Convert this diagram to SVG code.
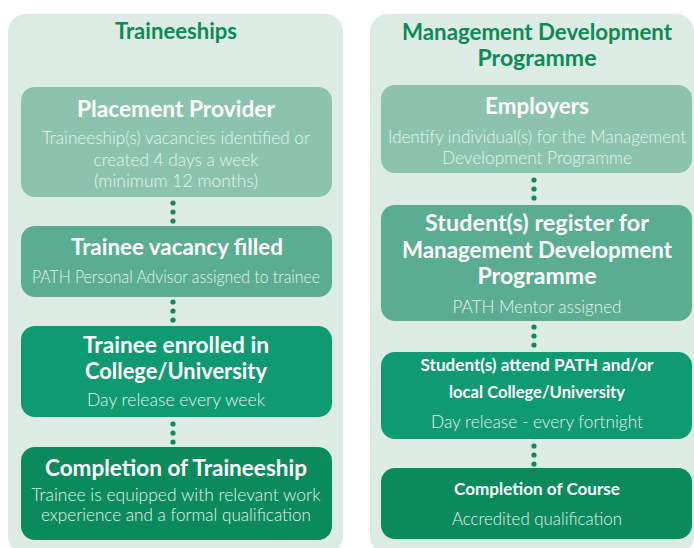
<svg xmlns="http://www.w3.org/2000/svg" width="694" height="548" viewBox="0 0 694 548">
<style>
.panel{fill:#dcebe4}
.b1{fill:#8cc3af}
.b2{fill:#5aad90}
.b3{fill:#0f9a71}
.b4{fill:#0b8a5d}
text{text-anchor:middle;font-family:Lato,"Open Sans",sans-serif}
.ht{font-weight:bold;fill:#0b8a55;font-size:22px}
.t{font-weight:bold;fill:#ffffff;font-size:22px}
.ts{font-weight:bold;fill:#ffffff;font-size:17px}
.s{font-weight:300;fill:#e6f3ee;font-size:17px}
.dot{fill:#0b8a5a}
</style>
<rect class="panel" x="8" y="14" width="335" height="540" rx="18"/>
<rect class="panel" x="370" y="14" width="324" height="540" rx="18"/>
<text class="ht" x="176" y="39" textLength="122" lengthAdjust="spacingAndGlyphs">Traineeships</text>
<text class="ht" x="537" y="40" textLength="270" lengthAdjust="spacingAndGlyphs">Management Development</text>
<text class="ht" x="537" y="66" textLength="119" lengthAdjust="spacingAndGlyphs">Programme</text>

<g id="placement-provider">
<rect class="b1" x="21" y="87" width="311" height="110" rx="14"/>
<text class="t" x="176" y="117" textLength="198" lengthAdjust="spacingAndGlyphs">Placement Provider</text>
<text class="s" x="176" y="144" textLength="268" lengthAdjust="spacingAndGlyphs">Traineeship(s) vacancies identified or</text>
<text class="s" x="176" y="166" textLength="165" lengthAdjust="spacingAndGlyphs">created 4 days a week</text>
<text class="s" x="176" y="187" textLength="164" lengthAdjust="spacingAndGlyphs">(minimum 12 months)</text>
</g>
<g id="vacancy-filled">
<rect class="b2" x="21" y="226" width="311" height="71" rx="14"/>
<text class="t" x="177" y="255" textLength="212" lengthAdjust="spacingAndGlyphs">Trainee vacancy filled</text>
<text class="s" x="176" y="283" textLength="288" lengthAdjust="spacingAndGlyphs">PATH Personal Advisor assigned to trainee</text>
</g>
<g id="trainee-enrolled">
<rect class="b3" x="21" y="326" width="311" height="91" rx="14"/>
<text class="t" x="176" y="353" textLength="186" lengthAdjust="spacingAndGlyphs">Trainee enrolled in</text>
<text class="t" x="176" y="379" textLength="182" lengthAdjust="spacingAndGlyphs">College/University</text>
<text class="s" x="176" y="406" textLength="178" lengthAdjust="spacingAndGlyphs">Day release every week</text>
</g>
<g id="completion-traineeship">
<rect class="b4" x="21" y="447" width="311" height="93" rx="14"/>
<text class="t" x="176" y="476" textLength="262" lengthAdjust="spacingAndGlyphs">Completion of Traineeship</text>
<text class="s" x="176" y="501" textLength="289" lengthAdjust="spacingAndGlyphs">Trainee is equipped with relevant work</text>
<text class="s" x="176" y="521" textLength="270" lengthAdjust="spacingAndGlyphs">experience and a formal qualification</text>
</g>

<g id="employers">
<rect class="b1" x="381" y="85" width="311" height="88" rx="14"/>
<text class="t" x="537" y="114" textLength="104" lengthAdjust="spacingAndGlyphs">Employers</text>
<text class="s" x="537" y="143" textLength="298" lengthAdjust="spacingAndGlyphs">Identify individual(s) for the Management</text>
<text class="s" x="537" y="164" textLength="190" lengthAdjust="spacingAndGlyphs">Development Programme</text>
</g>
<g id="student-register">
<rect class="b2" x="381" y="205" width="311" height="116" rx="14"/>
<text class="t" x="537" y="231" textLength="224" lengthAdjust="spacingAndGlyphs">Student(s) register for</text>
<text class="t" x="537" y="258" textLength="270" lengthAdjust="spacingAndGlyphs">Management Development</text>
<text class="t" x="537" y="284" textLength="119" lengthAdjust="spacingAndGlyphs">Programme</text>
<text class="s" x="537" y="313" textLength="169" lengthAdjust="spacingAndGlyphs">PATH Mentor assigned</text>
</g>
<g id="student-attend">
<rect class="b3" x="381" y="352" width="311" height="87" rx="14"/>
<text class="ts" x="537" y="371" textLength="233" lengthAdjust="spacingAndGlyphs">Student(s) attend PATH and/or</text>
<text class="ts" x="537" y="398" textLength="176" lengthAdjust="spacingAndGlyphs">local College/University</text>
<text class="s" x="537" y="428" textLength="212" lengthAdjust="spacingAndGlyphs">Day release - every fortnight</text>
</g>
<g id="completion-course">
<rect class="b4" x="381" y="468" width="311" height="71" rx="14"/>
<text class="ts" x="537" y="495" textLength="166" lengthAdjust="spacingAndGlyphs">Completion of Course</text>
<text class="s" x="537" y="525" textLength="170" lengthAdjust="spacingAndGlyphs">Accredited qualification</text>
</g>

<g id="connectors">
<circle class="dot" cx="173" cy="203" r="2.6"/>
<circle class="dot" cx="173" cy="212" r="2.6"/>
<circle class="dot" cx="173" cy="221" r="2.6"/>
<circle class="dot" cx="173" cy="302" r="2.6"/>
<circle class="dot" cx="173" cy="311" r="2.6"/>
<circle class="dot" cx="173" cy="320" r="2.6"/>
<circle class="dot" cx="173" cy="424" r="2.6"/>
<circle class="dot" cx="173" cy="433" r="2.6"/>
<circle class="dot" cx="173" cy="442" r="2.6"/>
<circle class="dot" cx="534" cy="180" r="2.6"/>
<circle class="dot" cx="534" cy="189" r="2.6"/>
<circle class="dot" cx="534" cy="198" r="2.6"/>
<circle class="dot" cx="534" cy="327" r="2.6"/>
<circle class="dot" cx="534" cy="336" r="2.6"/>
<circle class="dot" cx="534" cy="345" r="2.6"/>
<circle class="dot" cx="534" cy="446" r="2.6"/>
<circle class="dot" cx="534" cy="455" r="2.6"/>
<circle class="dot" cx="534" cy="464" r="2.6"/>
</g>
</svg>
